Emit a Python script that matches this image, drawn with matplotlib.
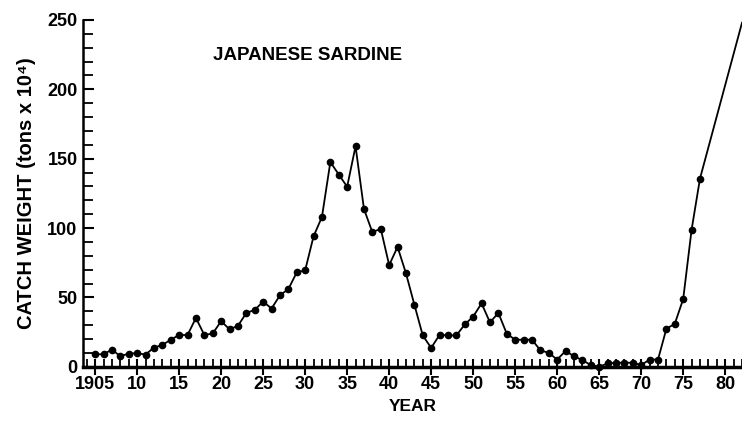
import matplotlib
matplotlib.use("Agg")
import matplotlib.pyplot as plt
from matplotlib.ticker import MultipleLocator, FixedLocator

plt.rcParams['font.family'] = ['Liberation Sans', 'DejaVu Sans']
plt.rcParams['font.weight'] = 'bold'

years = list(range(1905, 1978)) + [1982]
catch = [9, 9, 12.4, 7.6, 9.5, 9.8, 8.8, 13.8, 15.7, 19.5,
         22.9, 22.9, 35.2, 22.9, 24, 32.9, 27, 29.5, 38.8, 41,
         47, 42, 51.5, 56, 68, 69.5, 94, 108, 147.6, 138.6,
         129.8, 159, 113.8, 97, 99.5, 73.3, 86.4, 67.4, 44.8, 22.6,
         13.6, 23, 22.6, 22.6, 30.5, 36.2, 45.7, 32, 38.8, 23.8,
         19.5, 19.5, 19.5, 11.9, 10, 5.2, 11.4, 7.6, 4.8, 1.2,
         0, 2.4, 2.9, 2.9, 2.9, 1.2, 5.2, 5.2, 27.4, 31,
         48.8, 98.8, 135.7, 248]
marker_years = years[:-1]
marker_catch = catch[:-1]

xtick_pos = [1905, 1910, 1915, 1920, 1925, 1930, 1935, 1940, 1945,
             1950, 1955, 1960, 1965, 1970, 1975, 1980]
xtick_labels = ["1905", "10", "15", "20", "25", "30", "35", "40", "45",
                "50", "55", "60", "65", "70", "75", "80"]
ytick_pos = [0, 50, 100, 150, 200, 250]

fig = plt.figure(figsize=(7.42, 4.25), dpi=100)
ax = fig.add_axes([0.112, 0.137, 0.888, 0.816])

ax.plot(years, catch, color='black', lw=1.3, clip_on=False, zorder=3)
ax.plot(marker_years, marker_catch, 'o', color='black', ms=4.5,
        clip_on=False, zorder=4)

ax.set_xlim(1903.57, 1982.0)
ax.set_ylim(0, 250)

ax.spines['top'].set_visible(False)
ax.spines['right'].set_visible(False)
ax.spines['bottom'].set_linewidth(2.5)
ax.spines['left'].set_linewidth(1.8)

ax.xaxis.set_major_locator(FixedLocator(xtick_pos))
ax.set_xticklabels(xtick_labels)
ax.xaxis.set_minor_locator(MultipleLocator(1))
ax.yaxis.set_major_locator(FixedLocator(ytick_pos))
ax.yaxis.set_minor_locator(MultipleLocator(10))

ax.tick_params(axis='x', which='major', direction='inout', length=12,
               width=1.5, labelsize=13, pad=1)
ax.tick_params(axis='x', which='minor', direction='in', length=6, width=1.3)
ax.tick_params(axis='y', which='major', direction='in', length=8,
               width=1.5, labelsize=13, pad=4)
ax.tick_params(axis='y', which='minor', direction='in', length=7, width=1.3)
for lbl in ax.get_xticklabels() + ax.get_yticklabels():
    lbl.set_fontweight('bold')

ax.set_xlabel("YEAR", fontsize=12.5, fontweight='bold', labelpad=4)
ax.set_ylabel("CATCH WEIGHT (tons x 10\u2074)", fontsize=14.5,
              fontweight='bold', labelpad=8)

ax.text(0.197, 0.899, "JAPANESE SARDINE", transform=ax.transAxes,
        fontsize=13.5, fontweight='bold', ha='left', va='center')

fig.savefig("out.png", dpi=100)
